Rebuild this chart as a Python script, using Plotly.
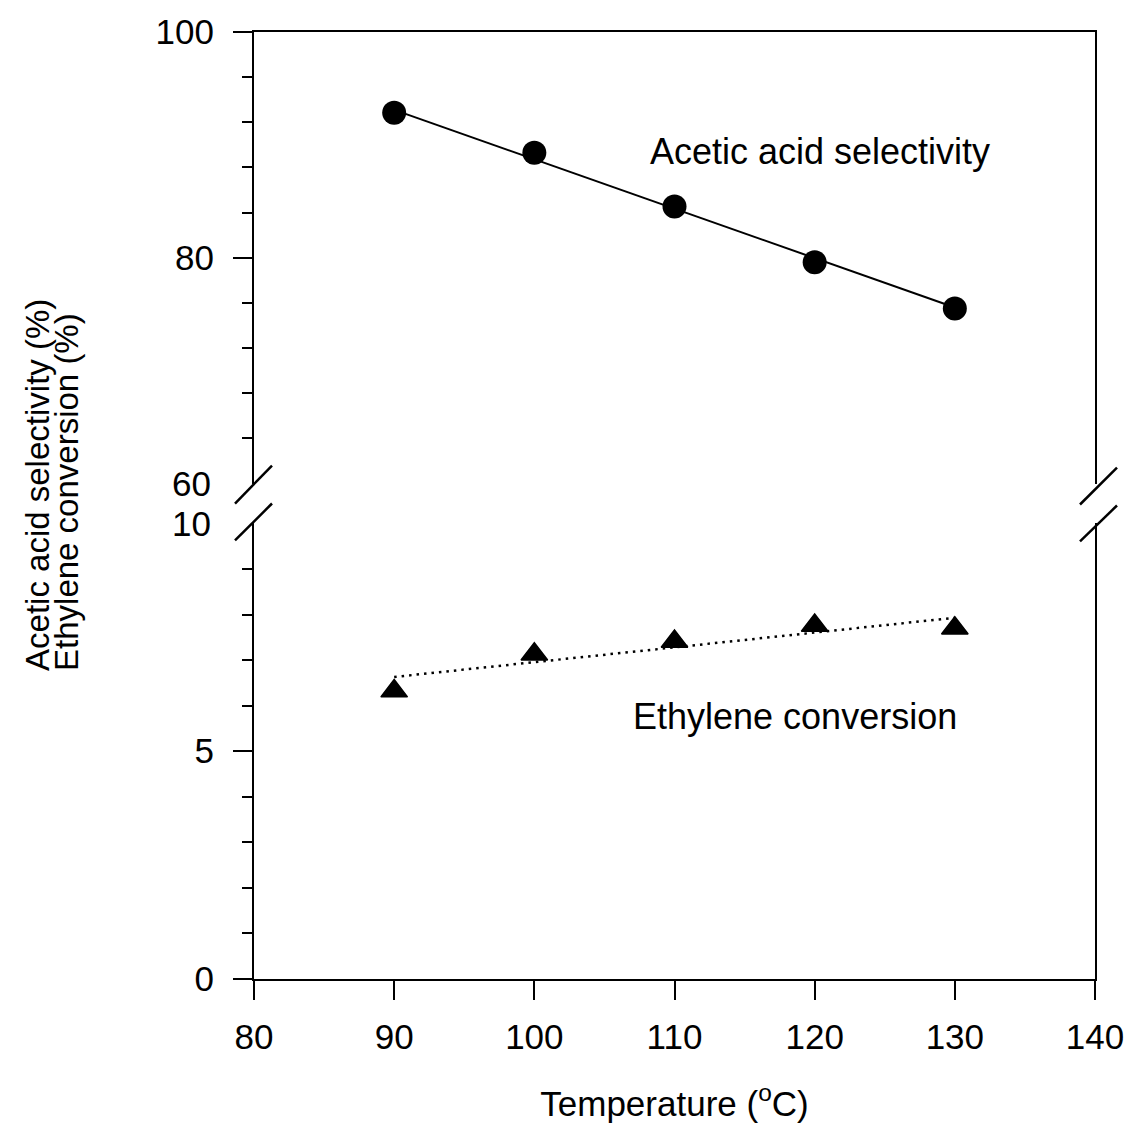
import plotly.graph_objects as go

# ---- data ----
temperature = [90, 100, 110, 120, 130]
selectivity = [92.85, 89.3, 84.55, 79.6, 75.5]       # acetic acid selectivity (%)
conversion = [6.32, 7.13, 7.41, 7.76, 7.70]          # ethylene conversion (%)
fit_x = [90, 130]
selectivity_fit = [93.1, 75.6]
conversion_fit = [6.63, 7.93]

x_ticks = [80, 90, 100, 110, 120, 130, 140]
upper_major = [80, 100]
upper_minor = [64, 68, 72, 76, 84, 88, 92, 96]
lower_major = [0, 5]
lower_minor = [1, 2, 3, 4, 6, 7, 8, 9]

FONT = "Arial, 'Liberation Sans', sans-serif"
W, H = 1136, 1131
L, R, T, B = 254, 41, 29, 152
PW, PH = W - L - R, H - T - B


def px2paper_x(px):
    return (px - L) / PW


def px2paper_y(py):
    return (H - B - py) / PH


fig = go.Figure()

# upper panel (selectivity)
fig.add_trace(go.Scatter(x=fit_x, y=selectivity_fit, mode="lines", xaxis="x2", yaxis="y2",
                         line=dict(color="black", width=2), showlegend=False, hoverinfo="skip"))
fig.add_trace(go.Scatter(x=temperature, y=selectivity, mode="markers", xaxis="x2", yaxis="y2",
                         marker=dict(symbol="circle", size=24, color="black"), showlegend=False))

# lower panel (conversion)
fig.add_trace(go.Scatter(x=fit_x, y=conversion_fit, mode="lines", xaxis="x", yaxis="y",
                         line=dict(color="black", width=2.5, dash="2.5px,5px"), showlegend=False,
                         hoverinfo="skip"))
fig.add_trace(go.Scatter(x=temperature, y=conversion, mode="markers", xaxis="x", yaxis="y",
                         marker=dict(symbol="triangle-up", size=23, color="black",
                                     line=dict(color="black", width=1.5)),
                         showlegend=False))

lower_top = px2paper_y(522)
upper_bot = px2paper_y(482)

TICKFONT = dict(family=FONT, size=35, color="black")
axis_common = dict(showgrid=False, zeroline=False, showline=True, linecolor="black",
                   linewidth=2.2, tickcolor="black", tickwidth=2, tickfont=TICKFONT)

fig.update_layout(
    width=W, height=H,
    margin=dict(l=L, r=R, t=T, b=B, pad=0),
    paper_bgcolor="white", plot_bgcolor="white",
    font=dict(family=FONT, color="black"),
    xaxis=dict(**axis_common, range=[80, 140], tickvals=x_ticks, ticks="outside", ticklen=19,
               anchor="y", ticklabelstandoff=7,
               title=dict(text="Temperature (<sup>o</sup>C)",
                          font=dict(family=FONT, size=35, color="black"), standoff=36)),
    xaxis2=dict(**axis_common, range=[80, 140], matches="x", anchor="y2", side="top",
                ticks="", showticklabels=False),
    yaxis=dict(**axis_common, domain=[0, lower_top], range=[0, 10], tickvals=lower_major,
               ticks="outside", ticklen=19, mirror=True, ticklabelstandoff=12,
               minor=dict(tickvals=lower_minor, ticks="outside", ticklen=10, tickwidth=2,
                          tickcolor="black")),
    yaxis2=dict(**axis_common, domain=[upper_bot, 1], range=[60, 100], tickvals=upper_major,
                ticks="outside", ticklen=19, mirror=True, ticklabelstandoff=12,
                minor=dict(tickvals=upper_minor, ticks="outside", ticklen=10, tickwidth=2,
                           tickcolor="black")),
)

# tick labels at the break (no tick marks there)
fig.add_annotation(text="60", x=px2paper_x(213), xref="paper", y=60, yref="y2",
                   xanchor="right", yanchor="middle", showarrow=False, font=TICKFONT)
fig.add_annotation(text="10", x=px2paper_x(213), xref="paper", y=10, yref="y",
                   xanchor="right", yanchor="middle", showarrow=False, font=TICKFONT)

# series labels
fig.add_annotation(text="Acetic acid selectivity", x=120.4, y=89.4, xref="x2", yref="y2",
                   showarrow=False, xanchor="center", yanchor="middle",
                   font=dict(family=FONT, size=36, color="black"))
fig.add_annotation(text="Ethylene conversion", x=118.6, y=5.76, xref="x", yref="y",
                   showarrow=False, xanchor="center", yanchor="middle",
                   font=dict(family=FONT, size=36, color="black"))

# y axis title (two lines)
fig.add_annotation(text="Acetic acid selectivity (%)", x=px2paper_x(38), y=px2paper_y(672),
                   xref="paper", yref="paper", textangle=-90, showarrow=False,
                   xanchor="center", yanchor="bottom", font=dict(family=FONT, size=33, color="black"))
fig.add_annotation(text="Ethylene conversion (%)", x=px2paper_x(67), y=px2paper_y(672),
                   xref="paper", yref="paper", textangle=-90, showarrow=False,
                   xanchor="center", yanchor="bottom", font=dict(family=FONT, size=33, color="black"))

# axis-break marks
for (x0, y0, x1, y1) in [(235, 502, 272, 464), (235, 539, 272, 502),
                         (1080, 503, 1117, 466), (1080, 540, 1117, 504)]:
    fig.add_shape(type="line", xref="paper", yref="paper",
                  x0=px2paper_x(x0), y0=px2paper_y(y0), x1=px2paper_x(x1), y1=px2paper_y(y1),
                  line=dict(color="black", width=2.5))

fig.write_html("out.html")
